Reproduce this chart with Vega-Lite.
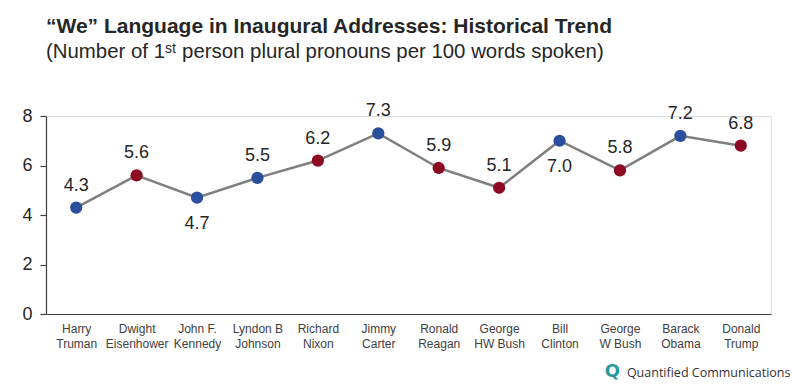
{
  "$schema": "https://vega.github.io/schema/vega-lite/v6.json",
  "width": 725,
  "height": 198,
  "autosize": {"type": "none"},
  "padding": {"left": 46, "top": 116, "right": 26, "bottom": 70},
  "background": "white",
  "title": {
    "text": "“We” Language in Inaugural Addresses: Historical Trend",
    "subtitle": "(Number  of 1ˢᵗ person plural pronouns per 100 words spoken)",
    "anchor": "start",
    "frame": "group",
    "font": "Liberation Sans",
    "fontSize": 21,
    "fontWeight": "bold",
    "color": "#262626",
    "subtitleFont": "Liberation Sans",
    "subtitleFontSize": 20.4,
    "subtitleColor": "#262626",
    "subtitlePadding": 5,
    "offset": 40
  },
  "data": {
    "values": [
      {"president": "Harry Truman", "party": "Democrat", "we": 4.3},
      {"president": "Dwight Eisenhower", "party": "Republican", "we": 5.6},
      {"president": "John F. Kennedy", "party": "Democrat", "we": 4.7},
      {"president": "Lyndon B Johnson", "party": "Democrat", "we": 5.5},
      {"president": "Richard Nixon", "party": "Republican", "we": 6.2},
      {"president": "Jimmy Carter", "party": "Democrat", "we": 7.3},
      {"president": "Ronald Reagan", "party": "Republican", "we": 5.9},
      {"president": "George HW Bush", "party": "Republican", "we": 5.1},
      {"president": "Bill Clinton", "party": "Democrat", "we": 7.0},
      {"president": "George W Bush", "party": "Republican", "we": 5.8},
      {"president": "Barack Obama", "party": "Democrat", "we": 7.2},
      {"president": "Donald Trump", "party": "Republican", "we": 6.8}
    ]
  },
  "encoding": {
    "x": {
      "field": "president",
      "type": "nominal",
      "sort": null,
      "scale": {"paddingInner": 0, "paddingOuter": 0},
      "axis": {
        "title": "Quantified Communications",
        "titleFont": "Open Sans",
        "titleFontSize": 12.5,
        "titleFontWeight": "normal",
        "titleColor": "#333333",
        "titleAnchor": "end",
        "titleAlign": "right",
        "titleBaseline": "alphabetic",
        "titleX": 744,
        "titleY": 62,
        "labelAngle": 0,
        "labelFont": "Liberation Sans",
        "labelFontSize": 12,
        "labelColor": "#404040",
        "labelLineHeight": 15,
        "labelPadding": 9,
        "labelBaseline": "top",
        "ticks": false,
        "domainColor": "#404040",
        "domainWidth": 1.2,
        "labelExpr": "indexof(datum.label, 'George ') == 0 ? ['George', substring(datum.label, 7)] : [substring(datum.label, 0, lastindexof(datum.label, ' ')), substring(datum.label, lastindexof(datum.label, ' ') + 1)]"
      }
    },
    "y": {
      "field": "we",
      "type": "quantitative",
      "scale": {"domain": [0, 8]},
      "axis": {
        "title": "Q",
        "titleFont": "DejaVu Sans",
        "titleFontSize": 18,
        "titleFontWeight": "bold",
        "titleColor": "#2a9a9e",
        "titleAngle": 0,
        "titleAlign": "center",
        "titleBaseline": "middle",
        "titleX": 566,
        "titleY": 255,
        "values": [0, 2, 4, 6, 8],
        "grid": false,
        "labelFont": "Liberation Sans",
        "labelFontSize": 18,
        "labelColor": "#262626",
        "labelPadding": 8,
        "tickSize": 6,
        "tickColor": "#404040",
        "domainColor": "#404040",
        "domainWidth": 1.2,
        "tickWidth": 1.2
      }
    }
  },
  "layer": [
    {
      "mark": {"type": "line", "color": "#7f7f7f", "strokeWidth": 2.5},
      "encoding": {}
    },
    {
      "mark": {"type": "circle", "opacity": 1, "size": 150},
      "encoding": {
        "color": {
          "field": "party",
          "type": "nominal",
          "scale": {"domain": ["Democrat", "Republican"], "range": ["#2a4f9c", "#8c0a22"]},
          "legend": null
        }
      }
    },
    {
      "transform": [{"filter": "datum.president != 'John F. Kennedy' && datum.president != 'Bill Clinton'"}],
      "mark": {"type": "text", "font": "Liberation Sans", "fontSize": 18, "color": "#262626", "baseline": "alphabetic", "dy": -17},
      "encoding": {"text": {"field": "we", "type": "quantitative", "format": ".1f"}}
    },
    {
      "transform": [{"filter": "datum.president == 'John F. Kennedy' || datum.president == 'Bill Clinton'"}],
      "mark": {"type": "text", "font": "Liberation Sans", "fontSize": 18, "color": "#262626", "baseline": "alphabetic", "dy": 31},
      "encoding": {"text": {"field": "we", "type": "quantitative", "format": ".1f"}}
    }
  ]
}
